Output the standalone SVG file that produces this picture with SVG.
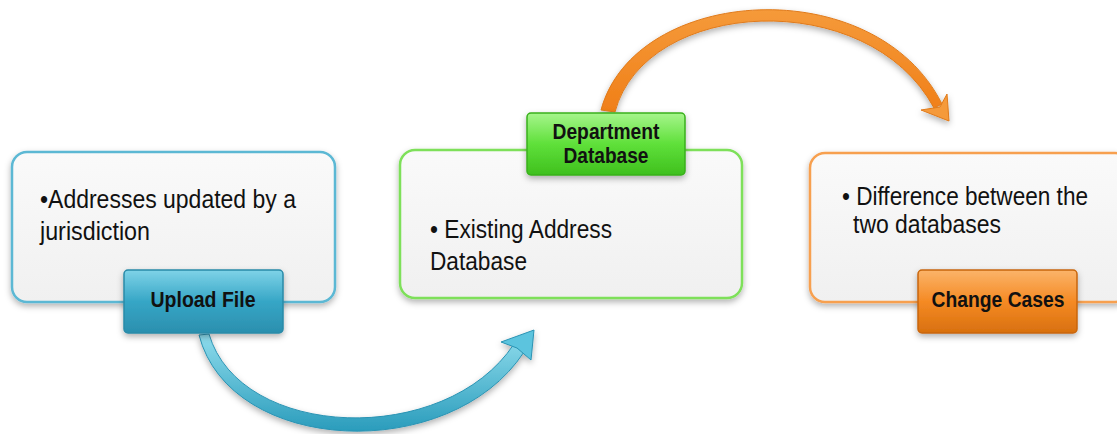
<svg xmlns="http://www.w3.org/2000/svg" width="1117" height="434" viewBox="0 0 1117 434">
<defs>
<filter id="sh" x="-10%" y="-10%" width="120%" height="130%">
<feDropShadow dx="0" dy="3" stdDeviation="3" flood-color="#000" flood-opacity="0.3"/>
</filter>
<linearGradient id="boxg" x1="0" y1="0" x2="0" y2="1">
<stop offset="0" stop-color="#fafafa"/><stop offset="1" stop-color="#f0f0f0"/>
</linearGradient>
<linearGradient id="blueg" x1="0" y1="0" x2="0" y2="1">
<stop offset="0" stop-color="#7fd3e8"/><stop offset="0.5" stop-color="#36a6c6"/><stop offset="1" stop-color="#2b8fae"/>
</linearGradient>
<linearGradient id="greeng" x1="0" y1="0" x2="0" y2="1">
<stop offset="0" stop-color="#a6f58c"/><stop offset="0.5" stop-color="#5fe03a"/><stop offset="1" stop-color="#3fc01e"/>
</linearGradient>
<linearGradient id="orangeg" x1="0" y1="0" x2="0" y2="1">
<stop offset="0" stop-color="#fbb46a"/><stop offset="0.5" stop-color="#f58a24"/><stop offset="1" stop-color="#d8700f"/>
</linearGradient>
<linearGradient id="barrow" x1="0" y1="0" x2="0" y2="1">
<stop offset="0" stop-color="#8fdcec"/><stop offset="1" stop-color="#2a9cbc"/>
</linearGradient>
<linearGradient id="oarrow" x1="0" y1="0" x2="0" y2="1">
<stop offset="0" stop-color="#f59a3a"/><stop offset="1" stop-color="#f07f18"/>
</linearGradient>
<style>
.box{fill:url(#boxg);stroke-width:2.5;filter:url(#sh)}
.txt{font-family:"Liberation Sans Narrow","Liberation Sans",Arial,sans-serif;font-size:26px;fill:#111}
.tab{font-family:"Liberation Sans Narrow","Liberation Sans",Arial,sans-serif;font-size:22px;font-weight:bold;fill:#111;text-anchor:middle}
.tabr{stroke-width:1.5;filter:url(#sh)}
</style>
</defs>
<rect width="1117" height="434" fill="#fff"/>
<g id="connectors">
<g id="blue-arrow" filter="url(#sh)">
<path d="M199,335 C230,455 450,465 524,352 L514,344 C445,448 240,440 209,334 Z" fill="url(#barrow)" stroke="#2a93b3" stroke-width="1"/>
<path d="M534,330 L501,342 L517,348 L531,360 Z" fill="#5cc4de" stroke="#2a93b3" stroke-width="1"/>
</g>
<g id="orange-arrow" filter="url(#sh)">
<path d="M601,110 C635,-15 875,-30 942,104 L934,108 C868,-15 645,-2 615,112 Z" fill="url(#oarrow)" stroke="#e07a1a" stroke-width="1"/>
<path d="M949,121 L947,94 L940,107 L921,110 Z" fill="#f59a3a" stroke="#e07a1a" stroke-width="1"/>
</g>
</g>
<g id="node-upload">
<rect class="box" x="12" y="152" width="323" height="150" rx="15" stroke="#5bb8d4"/>
<text class="txt" x="40" y="208" textLength="256" lengthAdjust="spacingAndGlyphs">•Addresses updated by a</text>
<text class="txt" x="40" y="240" textLength="110" lengthAdjust="spacingAndGlyphs">jurisdiction</text>
<rect class="tabr" x="124" y="270" width="159" height="63" rx="4" fill="url(#blueg)" stroke="#2a8aa8"/>
<text class="tab" x="203" y="307" textLength="105" lengthAdjust="spacingAndGlyphs">Upload File</text>
</g>
<g id="node-existing">
<rect class="box" x="400" y="150" width="342" height="148" rx="15" stroke="#7ee05a"/>
<text class="txt" x="430" y="238" textLength="182" lengthAdjust="spacingAndGlyphs">• Existing Address</text>
<text class="txt" x="430" y="270" textLength="97" lengthAdjust="spacingAndGlyphs">Database</text>
<rect class="tabr" x="527" y="113" width="158" height="62" rx="4" fill="url(#greeng)" stroke="#38b01c"/>
<text class="tab" x="606" y="139" textLength="107" lengthAdjust="spacingAndGlyphs">Department</text>
<text class="tab" x="606" y="163" textLength="85" lengthAdjust="spacingAndGlyphs">Database</text>
</g>
<g id="node-change">
<rect class="box" x="810" y="153" width="320" height="149" rx="15" stroke="#f7a050"/>
<text class="txt" x="842" y="205" textLength="246" lengthAdjust="spacingAndGlyphs">• Difference between the</text>
<text class="txt" x="853" y="233" textLength="148" lengthAdjust="spacingAndGlyphs">two databases</text>
<rect class="tabr" x="918" y="270" width="159" height="63" rx="4" fill="url(#orangeg)" stroke="#c8660c"/>
<text class="tab" x="998" y="307" textLength="133" lengthAdjust="spacingAndGlyphs">Change Cases</text>
</g>
</svg>
